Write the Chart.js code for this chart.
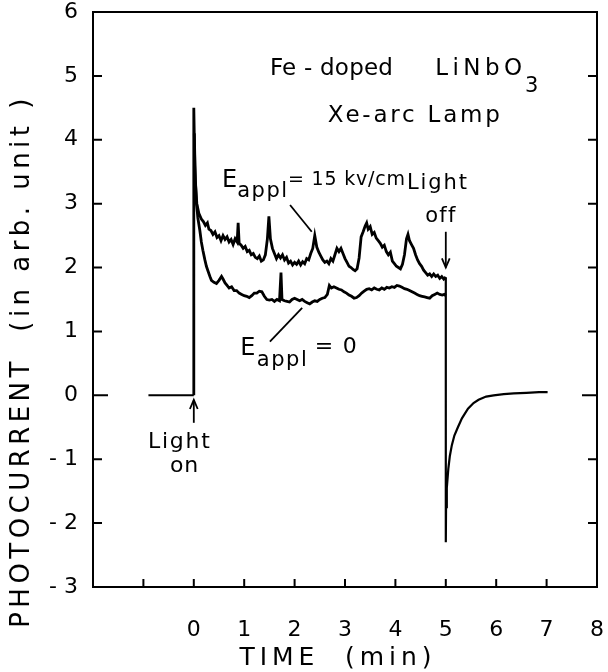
<!DOCTYPE html>
<html>
<head>
<meta charset="utf-8">
<script src="https://cdn.jsdelivr.net/npm/chart.js@4.4.1/dist/chart.umd.min.js"></script>
<style>
html,body{margin:0;padding:0;background:#fff;}
canvas{display:block;}
</style>
</head>
<body>
<canvas id="c" width="608" height="672"></canvas>
<script>
// ---- data (time in min, photocurrent in arb. unit) ----
const xTicks = [0,1,2,3,4,5,6,7,8];
const yTicks = [-3,-2,-1,0,1,2,3,4,5,6];

// dark current before light on
const preT = [-0.9, 0];
const preY = [0, 0];

// E_appl = 0 (includes the rise at light on)
const lowT = [0,0,0.02,0.05,0.08,0.12,0.15,0.18,0.22,0.25,0.28,0.32,0.35,0.4,0.45,0.5,0.55,0.58,0.62,0.66,0.7,0.75,0.8,0.85,0.9,0.95,1.0,1.05,1.1,1.15,1.2,1.25,1.3,1.35,1.4,1.45,1.5,1.55,1.6,1.65,1.7,1.73,1.75,1.8,1.85,1.9,1.95,2.0,2.05,2.1,2.15,2.2,2.25,2.3,2.35,2.4,2.45,2.5,2.55,2.6,2.65,2.69,2.73,2.78,2.83,2.88,2.93,2.98,3.03,3.08,3.13,3.18,3.23,3.28,3.33,3.38,3.43,3.48,3.53,3.58,3.63,3.68,3.73,3.78,3.83,3.88,3.93,3.98,4.03,4.08,4.13,4.18,4.23,4.28,4.33,4.38,4.43,4.48,4.53,4.58,4.63,4.68,4.73,4.78,4.83,4.88,4.93,4.97,5.0];
const lowY = [0,4.5,3.6,3.05,2.78,2.58,2.4,2.27,2.12,2.02,1.95,1.86,1.8,1.77,1.75,1.8,1.86,1.82,1.76,1.72,1.68,1.7,1.64,1.64,1.6,1.58,1.56,1.55,1.53,1.56,1.6,1.6,1.63,1.62,1.55,1.5,1.49,1.5,1.47,1.5,1.48,1.92,1.5,1.48,1.47,1.46,1.5,1.52,1.5,1.48,1.5,1.47,1.45,1.43,1.46,1.48,1.47,1.5,1.52,1.53,1.58,1.72,1.68,1.7,1.68,1.66,1.65,1.62,1.6,1.57,1.55,1.52,1.53,1.56,1.6,1.63,1.66,1.67,1.65,1.68,1.66,1.65,1.68,1.66,1.69,1.68,1.7,1.69,1.72,1.71,1.69,1.67,1.66,1.64,1.62,1.6,1.58,1.56,1.55,1.54,1.53,1.52,1.56,1.58,1.6,1.58,1.57,1.58,1.56];

// E_appl = 15 kV/cm
const highT = [0.01,0.03,0.06,0.1,0.15,0.19,0.23,0.27,0.3,0.34,0.38,0.42,0.46,0.5,0.54,0.58,0.62,0.66,0.7,0.74,0.78,0.82,0.86,0.88,0.9,0.94,0.98,1.02,1.06,1.1,1.14,1.18,1.22,1.26,1.3,1.34,1.38,1.42,1.46,1.49,1.52,1.56,1.6,1.64,1.68,1.72,1.76,1.8,1.84,1.88,1.92,1.96,2.0,2.04,2.08,2.12,2.16,2.2,2.24,2.28,2.32,2.36,2.4,2.44,2.48,2.52,2.56,2.6,2.64,2.68,2.72,2.76,2.8,2.84,2.88,2.92,2.96,3.0,3.04,3.08,3.12,3.16,3.2,3.24,3.28,3.32,3.36,3.4,3.43,3.46,3.5,3.54,3.58,3.62,3.66,3.7,3.74,3.78,3.82,3.86,3.9,3.94,3.98,4.02,4.06,4.1,4.14,4.18,4.22,4.25,4.28,4.32,4.36,4.4,4.44,4.48,4.52,4.56,4.6,4.64,4.68,4.72,4.76,4.8,4.84,4.88,4.92,4.96,5.0];
const highY = [4.1,3.35,3.0,2.85,2.76,2.72,2.66,2.7,2.6,2.58,2.52,2.56,2.47,2.5,2.42,2.5,2.44,2.48,2.4,2.44,2.36,2.45,2.4,2.7,2.38,2.35,2.3,2.33,2.25,2.27,2.2,2.22,2.16,2.14,2.18,2.1,2.12,2.2,2.45,2.8,2.45,2.3,2.22,2.14,2.2,2.15,2.2,2.12,2.16,2.07,2.1,2.04,2.08,2.05,2.1,2.04,2.09,2.06,2.14,2.12,2.22,2.3,2.5,2.32,2.24,2.18,2.12,2.08,2.1,2.06,2.14,2.1,2.2,2.3,2.25,2.3,2.22,2.14,2.08,2.02,2.0,1.97,1.95,1.98,2.15,2.48,2.56,2.65,2.7,2.6,2.64,2.52,2.55,2.46,2.42,2.38,2.32,2.35,2.25,2.2,2.24,2.1,2.06,2.02,2.0,1.98,2.05,2.2,2.45,2.52,2.42,2.36,2.3,2.2,2.12,2.06,2.02,1.96,1.92,1.88,1.9,1.86,1.9,1.86,1.88,1.83,1.86,1.82,1.85];

// light off: drop and recovery
const offT = [5,5,5.005,5.02,5.05,5.08,5.12,5.17,5.24,5.32,5.44,5.55,5.65,5.8,5.95,6.15,6.35,6.6,6.85,7.02];
const offY = [1.85,-2.3,-1.75,-1.45,-1.15,-0.95,-0.78,-0.63,-0.5,-0.36,-0.21,-0.12,-0.07,-0.02,0.0,0.02,0.03,0.04,0.05,0.05];

// ---- annotations (data coordinates) ----
const FAM = '"DejaVu Sans", sans-serif';
const labels = [
  {t:'Fe - doped', x:1.51, y:5.01, size:23, w:123},
  {t:'LiNbO', x:4.79, y:5.01, size:23, w:87},
  {t:'3', x:6.57, y:4.75, size:21},
  {t:'Xe-arc Lamp', x:2.66, y:4.28, size:23, w:172},
  {t:'E', x:0.56, y:3.26, size:24},
  {t:'appl', x:0.86, y:3.11, size:21, w:50},
  {t:'= 15 kv/cm', x:1.87, y:3.29, size:19, w:117},
  {t:'Light', x:4.23, y:3.23, size:21, w:60},
  {t:'off', x:4.59, y:2.71, size:21, w:30},
  {t:'E', x:0.92, y:0.63, size:24},
  {t:'appl', x:1.25, y:0.46, size:21, w:50},
  {t:'= 0', x:2.40, y:0.66, size:22, w:42},
  {t:'Light', x:-0.91, y:-0.82, size:22, w:62},
  {t:'on', x:-0.47, y:-1.2, size:22, w:28}
];
const pointers = [
  {x1:1.91, y1:2.98, x2:2.34, y2:2.56, head:false},
  {x1:1.51, y1:0.84, x2:2.15, y2:1.37, head:false},
  {x1:5, y1:2.56, x2:5, y2:2.0, head:true},
  {x1:0, y1:-0.43, x2:0, y2:-0.07, head:true}
];

function pts(xs, ys){ return xs.map((v,i)=>({x:v, y:ys[i]})); }

function setSpacing(ctx, text, w){
  if (!('letterSpacing' in ctx)) return;
  ctx.letterSpacing = '0px';
  if (!w || text.length < 2) return;
  const m = ctx.measureText(text).width;
  const sp = Math.max(0, (w - m) / (text.length - 1));
  ctx.letterSpacing = sp.toFixed(2) + 'px';
}

const decor = {
  id: 'decor',
  afterDraw(chart){
    const {ctx, chartArea:a, scales:{x, y}} = chart;
    ctx.save();
    ctx.strokeStyle = '#000';
    ctx.fillStyle = '#000';
    ctx.lineWidth = 2;
    ctx.lineCap = 'butt';
    // frame
    ctx.strokeRect(a.left, a.top, a.right - a.left, a.bottom - a.top);
    // inward ticks
    ctx.beginPath();
    y.ticks.forEach(t => {
      if (t.value <= -3 || t.value >= 6) return;
      const py = y.getPixelForValue(t.value);
      const L = t.value === 0 ? 15 : 9;
      ctx.moveTo(a.left, py); ctx.lineTo(a.left + L, py);
      ctx.moveTo(a.right, py); ctx.lineTo(a.right - L, py);
    });
    x.ticks.forEach(t => {
      if (t.value <= -2 || t.value >= 8) return;
      const px = x.getPixelForValue(t.value);
      ctx.moveTo(px, a.bottom); ctx.lineTo(px, a.bottom - 8);
    });
    ctx.stroke();

    // pointers / arrows
    ctx.lineWidth = 1.8;
    pointers.forEach(p => {
      const x1 = x.getPixelForValue(p.x1), y1 = y.getPixelForValue(p.y1);
      const x2 = x.getPixelForValue(p.x2), y2 = y.getPixelForValue(p.y2);
      ctx.beginPath(); ctx.moveTo(x1, y1); ctx.lineTo(x2, y2); ctx.stroke();
      if (p.head){
        const ang = Math.atan2(y2 - y1, x2 - x1);
        const hl = 10, ha = 0.4;
        ctx.beginPath();
        ctx.moveTo(x2 - hl*Math.cos(ang - ha), y2 - hl*Math.sin(ang - ha));
        ctx.lineTo(x2, y2);
        ctx.lineTo(x2 - hl*Math.cos(ang + ha), y2 - hl*Math.sin(ang + ha));
        ctx.stroke();
      }
    });

    // text labels
    ctx.textAlign = 'left';
    ctx.textBaseline = 'alphabetic';
    labels.forEach(l => {
      ctx.font = l.size + 'px ' + FAM;
      setSpacing(ctx, l.t, l.w);
      ctx.fillText(l.t, x.getPixelForValue(l.x), y.getPixelForValue(l.y));
    });

    // axis titles
    ctx.textAlign = 'center';
    ctx.textBaseline = 'middle';
    ctx.font = '25px ' + FAM;
    const xt = 'TIME  (min)';
    setSpacing(ctx, xt, 192);
    ctx.fillText(xt, 338, 658);

    const yt = 'PHOTOCURRENT  (in arb. unit )';
    ctx.save();
    ctx.translate(22, 361);
    ctx.rotate(-Math.PI/2);
    ctx.font = '26px ' + FAM;
    setSpacing(ctx, yt, 529);
    ctx.fillText(yt, 0, 0);
    ctx.restore();
    if ('letterSpacing' in ctx) ctx.letterSpacing = '0px';
    ctx.restore();
  }
};

const lineStyle = {borderColor:'#000', borderWidth:2.8, pointRadius:0, tension:0, fill:false, showLine:true};

new Chart(document.getElementById('c'), {
  type: 'line',
  data: {
    datasets: [
      Object.assign({label:'dark', data: pts(preT, preY)}, lineStyle, {borderWidth:2}),
      Object.assign({label:'E_appl = 0', data: pts(lowT, lowY)}, lineStyle),
      Object.assign({label:'E_appl = 15 kv/cm', data: pts(highT, highY)}, lineStyle),
      Object.assign({label:'light off', data: pts(offT, offY)}, lineStyle, {borderWidth:2.2})
    ]
  },
  options: {
    responsive: false,
    devicePixelRatio: 1,
    animation: false,
    layout: {padding: 0},
    plugins: {legend: {display: false}, tooltip: {enabled: false}},
    scales: {
      x: {
        type: 'linear', min: -2, max: 8,
        afterBuildTicks: s => { s.ticks = [-2,-1].concat(xTicks).map(v => ({value: v})); },
        ticks: {
          autoSkip: false, maxRotation: 0, padding: 30, color: '#000',
          font: {family: FAM, size: 22},
          callback: v => (v >= 0 ? String(v) : '')
        },
        grid: {display: true, drawOnChartArea: false, drawTicks: false, color: 'rgba(0,0,0,0)'},
        border: {display: false},
        afterFit: s => { s.height = 85; s.paddingLeft = 0; s.paddingRight = 11; }
      },
      y: {
        type: 'linear', min: -3, max: 6,
        afterBuildTicks: s => { s.ticks = yTicks.map(v => ({value: v})); },
        ticks: {
          autoSkip: false, padding: 15, color: '#000',
          font: {family: FAM, size: 22},
          callback: v => (v < 0 ? '- ' + (-v) : String(v))
        },
        grid: {display: true, drawOnChartArea: false, drawTicks: false, color: 'rgba(0,0,0,0)'},
        border: {display: false},
        afterFit: s => { s.width = 93; s.paddingTop = 12; s.paddingBottom = 0; }
      }
    }
  },
  plugins: [decor]
});
</script>
</body>
</html>
